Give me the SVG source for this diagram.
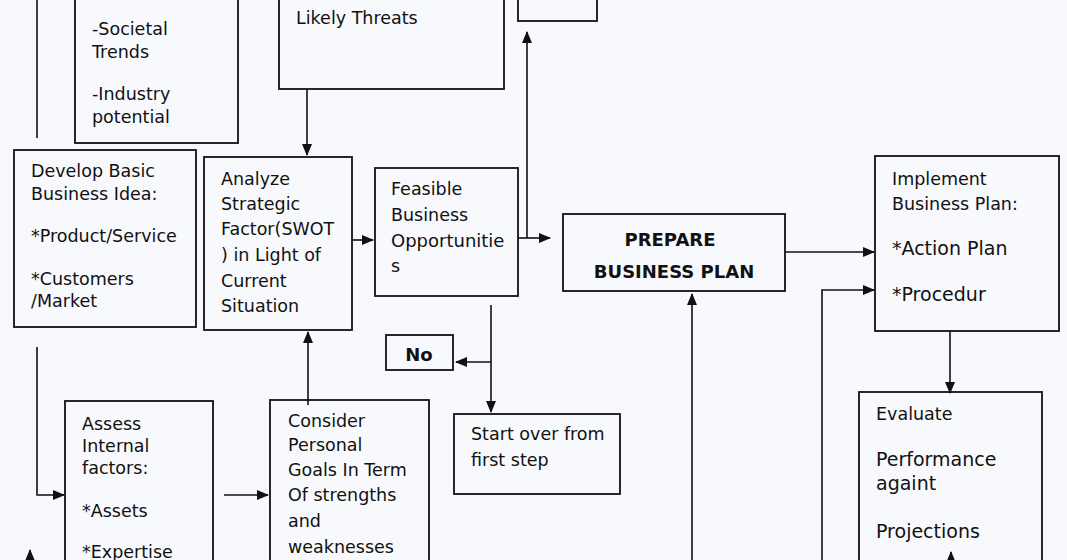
<svg xmlns="http://www.w3.org/2000/svg" width="1067" height="560" viewBox="0 0 1067 560">
<defs>
<marker id="a" markerWidth="12" markerHeight="12" refX="11" refY="6" orient="auto" markerUnits="userSpaceOnUse"><path d="M0,1 L12,6 L0,11 Z" fill="#111"/></marker>
<style>
.b{fill:none;stroke:#111;stroke-width:1.8}
.t{font-family:"DejaVu Sans",sans-serif;font-size:17.5px;fill:#111}
.h{font-family:"DejaVu Sans",sans-serif;font-size:18px;font-weight:bold;fill:#111}
.c{fill:none;stroke:#111;stroke-width:1.6}
</style>
</defs>
<rect width="1067" height="560" fill="#f8f9fc"/>
<g id="connectors">
<path class="c" d="M37,0 V138"/>
<path class="c" d="M37,347 V495 H64" marker-end="url(#a)"/>
<path class="c" d="M30,560 V550" marker-end="url(#a)"/>
<path class="c" d="M307,89 V155" marker-end="url(#a)"/>
<path class="c" d="M352,240 H373" marker-end="url(#a)"/>
<path class="c" d="M518,238 H550" marker-end="url(#a)"/>
<path class="c" d="M527,238 V32" marker-end="url(#a)"/>
<path class="c" d="M785,252 H874" marker-end="url(#a)"/>
<path class="c" d="M491,305 V412" marker-end="url(#a)"/>
<path class="c" d="M491,362 H456" marker-end="url(#a)"/>
<path class="c" d="M308,405 V332" marker-end="url(#a)"/>
<path class="c" d="M224,495 H268" marker-end="url(#a)"/>
<path class="c" d="M692,560 V294" marker-end="url(#a)"/>
<path class="c" d="M822,560 V290 H874" marker-end="url(#a)"/>
<path class="c" d="M950,331 V393" marker-end="url(#a)"/>
<path class="c" d="M951,560 V552" marker-end="url(#a)"/>
</g>
<g id="trends"><rect class="b" x="75" y="-5" width="163" height="148"/>
<text class="t" x="92" y="35">-Societal</text><text class="t" x="92" y="58">Trends</text>
<text class="t" x="92" y="100">-Industry</text><text class="t" x="92" y="123">potential</text></g>
<g id="threats"><rect class="b" x="279" y="-5" width="225" height="94"/><text class="t" x="296" y="24">Likely Threats</text></g>
<g id="topright"><rect class="b" x="518" y="-5" width="79" height="26"/></g>
<g id="develop"><rect class="b" x="14" y="150" width="182" height="177"/>
<text class="t" x="31" y="177">Develop Basic</text><text class="t" x="31" y="200">Business Idea:</text>
<text class="t" x="31" y="242">*Product/Service</text><text class="t" x="31" y="285">*Customers</text><text class="t" x="31" y="307">/Market</text></g>
<g id="analyze"><rect class="b" x="204" y="157" width="148" height="173"/>
<text class="t" x="221" y="185">Analyze</text><text class="t" x="221" y="210">Strategic</text><text class="t" x="221" y="235">Factor(SWOT</text><text class="t" x="221" y="261">) in Light of</text><text class="t" x="221" y="287">Current</text><text class="t" x="221" y="312">Situation</text></g>
<g id="feasible"><rect class="b" x="375" y="168" width="143" height="128"/>
<text class="t" x="391" y="195">Feasible</text><text class="t" x="391" y="221">Business</text><text class="t" x="391" y="247" style="font-size:18px">Opportunitie</text><text class="t" x="391" y="272">s</text></g>
<g id="prepare"><rect class="b" x="563" y="214" width="222" height="77"/>
<text class="h" x="670" y="246" text-anchor="middle">PREPARE</text><text class="h" x="674" y="278" text-anchor="middle">BUSINESS PLAN</text></g>
<g id="implement"><rect class="b" x="875" y="156" width="184" height="175"/>
<text class="t" x="892" y="185">Implement</text><text class="t" x="892" y="210">Business Plan:</text>
<text class="t" x="892" y="255" style="font-size:19px">*Action Plan</text><text class="t" x="892" y="301" style="font-size:19px">*Procedur</text></g>
<g id="no"><rect class="b" x="386" y="335" width="67" height="35"/><text class="h" x="419" y="361" text-anchor="middle">No</text></g>
<g id="startover"><rect class="b" x="454" y="414" width="166" height="80"/>
<text class="t" x="471" y="440">Start over from</text><text class="t" x="471" y="466">first step</text></g>
<g id="assess"><rect class="b" x="65" y="401" width="148" height="170"/>
<text class="t" x="82" y="430">Assess</text><text class="t" x="82" y="452">Internal</text><text class="t" x="82" y="474">factors:</text>
<text class="t" x="82" y="517">*Assets</text><text class="t" x="82" y="558">*Expertise</text></g>
<g id="consider"><rect class="b" x="270" y="400" width="159" height="170"/>
<text class="t" x="288" y="427">Consider</text><text class="t" x="288" y="451">Personal</text><text class="t" x="288" y="476">Goals In Term</text><text class="t" x="288" y="501">Of strengths</text><text class="t" x="288" y="527">and</text><text class="t" x="288" y="553">weaknesses</text></g>
<g id="evaluate"><rect class="b" x="859" y="392" width="183" height="175"/>
<text class="t" x="876" y="420">Evaluate</text><text class="t" x="876" y="466" style="font-size:19px">Performance</text><text class="t" x="876" y="490" style="font-size:19px">againt</text><text class="t" x="876" y="538" style="font-size:19px">Projections</text></g>
</svg>
